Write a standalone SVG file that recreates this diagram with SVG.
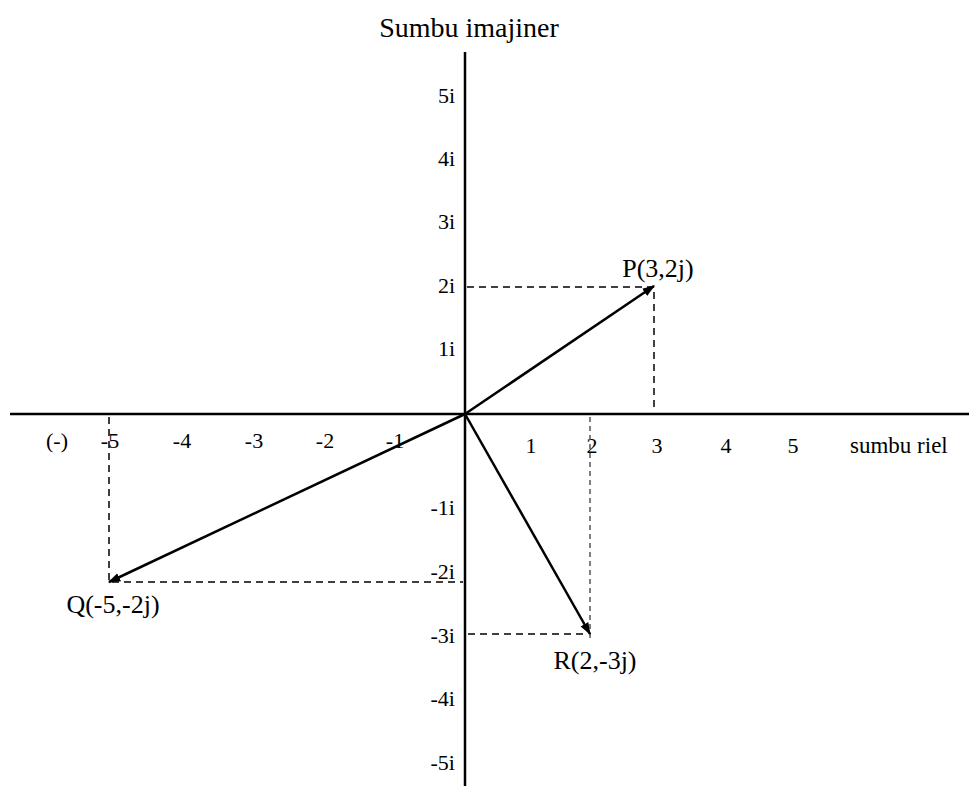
<svg xmlns="http://www.w3.org/2000/svg" width="969" height="786" viewBox="0 0 969 786">
<style>
text{font-family:"Liberation Serif","Times New Roman",serif;fill:#000}
.t{font-size:23px}
.yl{font-size:22px;text-anchor:end}
.xl{font-size:22px;text-anchor:middle}
.pl{font-size:26px;text-anchor:middle}
.ttl{font-size:28px;text-anchor:middle}
.ax{stroke:#000;stroke-width:2.5;fill:none}
.vec{stroke:#000;stroke-width:2.5;fill:none;marker-end:url(#ah)}
.dash{stroke:#000;stroke-width:1.5;stroke-dasharray:7 5;fill:none}
.dash2{stroke:#555;stroke-width:1.5;stroke-dasharray:5 4;fill:none}
</style>
<defs>
<marker id="ah" viewBox="0 0 10 10" refX="9" refY="5" markerWidth="5" markerHeight="5" orient="auto" markerUnits="strokeWidth">
<path d="M0,1.5 L10,5 L0,8.5 Z" fill="#000"/>
</marker>
</defs>
<rect width="969" height="786" fill="#fff"/>
<g id="axes">
<line class="ax" x1="10" y1="414" x2="969" y2="414"/>
<line class="ax" x1="465" y1="52" x2="465" y2="786"/>
<text class="ttl" x="469" y="37">Sumbu imajiner</text>
</g>
<g id="y-labels">
<text class="yl" x="455" y="103">5i</text>
<text class="yl" x="455" y="166">4i</text>
<text class="yl" x="455" y="229">3i</text>
<text class="yl" x="455" y="293">2i</text>
<text class="yl" x="455" y="356">1i</text>
<text class="yl" x="455" y="515">-1i</text>
<text class="yl" x="455" y="579">-2i</text>
<text class="yl" x="455" y="643">-3i</text>
<text class="yl" x="455" y="706">-4i</text>
<text class="yl" x="455" y="770">-5i</text>
</g>
<g id="x-labels">
<text class="xl" x="57" y="448">(-)</text>
<text class="xl" x="110" y="448">-5</text>
<text class="xl" x="182" y="448">-4</text>
<text class="xl" x="254" y="448">-3</text>
<text class="xl" x="325" y="448">-2</text>
<text class="xl" x="395" y="448">-1</text>
<text class="xl" x="531" y="453">1</text>
<text class="xl" x="592" y="453">2</text>
<text class="xl" x="657" y="453">3</text>
<text class="xl" x="726" y="453">4</text>
<text class="xl" x="793" y="453">5</text>
<text class="t" x="850" y="453">sumbu riel</text>
</g>
<g id="connectors">
<polyline class="dash" points="467,287 654,287 654,410"/>
<polyline class="dash" points="109,417 109,582 463,582"/>
<line class="dash2" x1="590" y1="417" x2="590" y2="640"/>
<line class="dash" x1="468" y1="634" x2="588" y2="634"/>
<line class="vec" x1="465" y1="414" x2="654" y2="286"/>
<line class="vec" x1="465" y1="414" x2="109" y2="582"/>
<line class="vec" x1="465" y1="414" x2="590" y2="634"/>
</g>
<g id="P"><text class="pl" x="658" y="277">P(3,2j)</text></g>
<g id="Q"><text class="pl" x="113" y="613">Q(-5,-2j)</text></g>
<g id="R"><text class="pl" x="595" y="669">R(2,-3j)</text></g>
</svg>
